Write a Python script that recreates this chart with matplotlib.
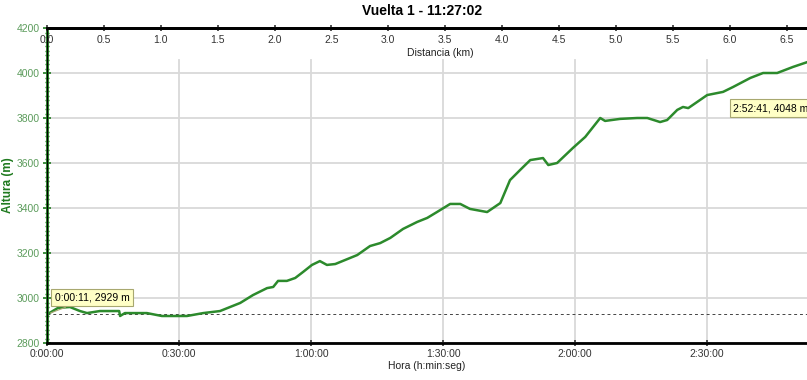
import numpy as np
import matplotlib
matplotlib.use("Agg")
import matplotlib.pyplot as plt
from matplotlib.ticker import MultipleLocator, FuncFormatter

plt.rcParams["font.family"] = ["Liberation Sans", "DejaVu Sans"]

# elapsed time (min) and altitude (m)
t_min = [0.18, 2.5, 5.2, 7.5, 9.1, 12.0, 15.9, 16.4, 16.6, 17.7, 22.7, 26.1, 31.8,
         35.5, 39.3, 43.9, 46.8, 50.0, 51.4, 52.5, 54.5, 56.4, 58.2, 60.2, 62.0,
         63.6, 65.5, 70.5, 73.4, 75.7, 78.0, 80.9, 84.1, 86.4, 88.6, 91.6, 93.9,
         96.1, 100.0, 103.0, 105.2, 107.5, 109.8, 112.7, 113.9, 115.9, 119.5,
         122.3, 125.7, 126.8, 130.2, 134.1, 136.4, 139.3, 140.9, 143.2, 144.5,
         145.7, 150.0, 153.6, 155.9, 159.8, 162.7, 165.9, 169.5, 172.68]
alt_m = [2929, 2956, 2960, 2942, 2933, 2942, 2942, 2942, 2920, 2933, 2933, 2920, 2920,
         2933, 2942, 2978, 3013, 3044, 3049, 3076, 3076, 3089, 3116, 3147, 3164,
         3147, 3151, 3191, 3231, 3244, 3267, 3307, 3338, 3356, 3382, 3418, 3418,
         3396, 3382, 3422, 3524, 3569, 3613, 3622, 3591, 3600, 3667,
         3716, 3800, 3787, 3796, 3800, 3800, 3782, 3791, 3836, 3849,
         3844, 3902, 3916, 3938, 3978, 4000, 4000, 4027, 4048]
total_km = 6.68
start_label = "0:00:11, 2929 m"
end_label = "2:52:41, 4048 m"

W, H = 807, 380
fig = plt.figure(figsize=(W / 100, H / 100), dpi=100)
ax = fig.add_axes([47 / W, 1 - 343 / H, 1 - 47 / W, (343 - 28) / H])

green = "#2c8a2c"
ax.plot(t_min, alt_m, color=green, lw=1.8, zorder=4)
ax.axhline(alt_m[0], color="#444444", lw=0.7, ls=(0, (3, 3)), zorder=3)

ax.set_xlim(0, t_min[-1])
ax.set_ylim(2800, 4200)
ax.xaxis.set_major_locator(MultipleLocator(30))
ax.xaxis.set_major_formatter(FuncFormatter(
    lambda v, p: "%d:%02d:00" % (int(v) // 60, int(v) % 60)))
ax.yaxis.set_major_locator(MultipleLocator(200))
ax.yaxis.set_minor_locator(MultipleLocator(20))

# grid
ax.grid(axis="y", color="#d9d9d9", lw=1.3, zorder=0)
for x in np.arange(30, t_min[-1], 30):
    ax.axvline(x, ymax=0.9, color="#d9d9d9", lw=1.3, zorder=0)

for s in ["left", "bottom", "top"]:
    ax.spines[s].set_linewidth(2)
ax.spines["left"].set_color("#1f7a1f")
ax.spines["bottom"].set_color("black")
ax.spines["right"].set_visible(False)

ax.tick_params(axis="x", direction="inout", length=5, width=1.2, labelsize=7.5,
               colors="#333333", pad=2)
ax.tick_params(axis="y", which="major", direction="inout", length=6, width=1.2,
               labelsize=7.5, colors="#1f7a1f", labelcolor="#5c9c5c", pad=2)
ax.tick_params(axis="y", which="minor", direction="inout", length=3, width=1,
               colors="#1f7a1f")
ax.set_ylabel("Altura (m)", color="#1f7a1f", fontsize=8.5, fontweight="bold",
              labelpad=2)
ax.set_xlabel("Hora (h:min:seg)", fontsize=7.5, color="#222222", labelpad=1)

# distance axis on top
axd = ax.twiny()
axd.set_xlim(0, total_km)
axd.xaxis.set_major_locator(MultipleLocator(0.5))
axd.xaxis.set_major_formatter(FuncFormatter(lambda v, p: "%.1f" % v))
axd.tick_params(axis="x", direction="inout", length=5, width=1.2, labelsize=7.5,
                colors="#333333", pad=-15)
axd.spines["top"].set_linewidth(2)
axd.spines["right"].set_visible(False)
fig.text(440 / W, 1 - 53 / H, "Distancia (km)", ha="center", va="center",
         fontsize=7.5, color="#222222")

fig.text(422 / W, 1 - 11 / H, "Vuelta 1 - 11:27:02", ha="center", va="center",
         fontsize=10, fontweight="bold")

box = dict(boxstyle="square,pad=0.35", fc="#ffffc6", ec="#a8a870", lw=0.8)
ax.annotate(start_label, xy=(t_min[0], alt_m[0]), xytext=(5, 12),
            textcoords="offset points", ha="left", va="center", fontsize=7.5,
            bbox=box, zorder=6,
            arrowprops=dict(arrowstyle="-", color="#a8a870", lw=0.8))
ax.annotate(end_label, xy=(t_min[-1], alt_m[-1]), xytext=(-53, -33),
            textcoords="offset points", ha="left", va="center", fontsize=7.5,
            bbox=box, zorder=6, annotation_clip=False)

fig.savefig("out.png", dpi=100)
